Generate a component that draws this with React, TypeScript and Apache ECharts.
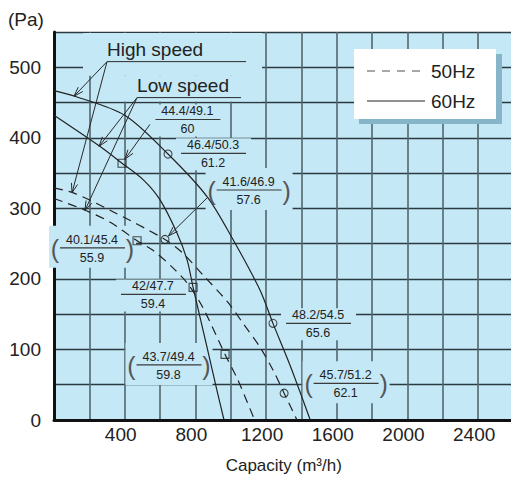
import React, { useEffect, useRef } from "react";
import * as echarts from "echarts";

// ---------- data ----------
const pressureLabels = [0, 100, 200, 300, 400, 500];
const capacityLabels = [400, 800, 1200, 1600, 2000, 2400];

const curve60High = [[0, 467], [118, 459], [400, 432], [645, 377], [868, 316], [1008, 258], [1166, 184], [1239, 137], [1335, 78], [1450, 0]];
const curve50High = [[0, 329], [110, 322], [320, 297], [628, 256], [727, 237], [845, 205], [980, 168], [1070, 137], [1166, 103], [1239, 71], [1302, 38], [1375, 0]];
const curve60Low = [[0, 432], [259, 388], [385, 364], [507, 340], [600, 312], [696, 265], [753, 227], [787, 188], [866, 103], [922, 42], [962, 0]];
const curve50Low = [[0, 314], [180, 297], [321, 280], [470, 254], [558, 241], [676, 215], [760, 192], [845, 158], [968, 93], [1040, 57], [1135, 0]];

const highPoints60 = [[645, 377], [1239, 137]];
const highPoints50 = [[628, 256], [1302, 38]];
const lowPoints60 = [[385, 364], [787, 188]];
const lowPoints50 = [[470, 254], [968, 93]];

const pointUpper = ["44.4/49.1", "46.4/50.3", "41.6/46.9", "40.1/45.4", "42/47.7", "43.7/49.4", "48.2/54.5", "45.7/51.2"];
const pointLower = ["60", "61.2", "57.6", "55.9", "59.4", "59.8", "65.6", "62.1"];
const pointIs50Hz = [false, false, true, true, false, true, false, true];
const pointLabelAt = [[755, 426], [900, 378], [1101, 326], [215, 244], [560, 178], [648, 78], [1494, 137], [1650, 52]];

const leaderFrom = [[543, 419], [871, 316]];
const leaderTo = [[385, 364], [628, 256]];

const calloutTexts = ["High speed", "Low speed"];
const calloutStart = [[300, 508], [470, 457]];
const calloutEnd = [[1087, 508], [1058, 457]];
const calloutTargets = [[[113, 459], [102, 322]], [[255, 388], [175, 297]]];

const legendNames = ["50Hz", "60Hz"];

// ---------- styles ----------
const BG = "#c4e8f6";
const INK = "#222222";
const FONT = "'Liberation Sans', Arial, sans-serif";

function arrowHead(tip: number[], from: number[], len = 10, ang = 0.32) {
  const dx = from[0] - tip[0];
  const dy = from[1] - tip[1];
  const d = Math.hypot(dx, dy) || 1;
  const ux = dx / d, uy = dy / d;
  const rot = (a: number) => [
    tip[0] + len * (ux * Math.cos(a) - uy * Math.sin(a)),
    tip[1] + len * (ux * Math.sin(a) + uy * Math.cos(a)),
  ];
  return [rot(ang), tip, rot(-ang)];
}

export default function App() {
  const ref = useRef<HTMLDivElement>(null);

  useEffect(() => {
    if (!ref.current) return;
    const chart = echarts.init(ref.current, undefined, { renderer: "svg" });

    const lineSeries = (data: number[][], dashed: boolean) => ({
      type: "line",
      data,
      smooth: 0.3,
      symbol: "none",
      showSymbol: false,
      silent: true,
      z: 3,
      lineStyle: { color: INK, width: 1.2, type: dashed ? [9, 6] : "solid" },
    });
    const markerSeries = (data: number[][], symbol: string) => ({
      type: "scatter",
      data,
      symbol,
      symbolSize: 8,
      silent: true,
      z: 4,
      itemStyle: { color: "rgba(0,0,0,0)", borderColor: INK, borderWidth: 1.1 },
    });

    chart.setOption({
      animation: false,
      grid: {
        left: 54, right: -2.5, top: 32, bottom: 57,
        show: true, backgroundColor: BG, borderWidth: 0,
        outerBoundsMode: "none", containLabel: false,
      },
      xAxis: {
        type: "value",
        min: 0,
        max: 2600,
        interval: 200,
        axisLine: { show: true, lineStyle: { color: "#111", width: 3 } },
        axisTick: { show: false },
        splitLine: { show: true, lineStyle: { color: "#52666e", width: 1.6 } },
        axisLabel: {
          formatter: (v: number) => (capacityLabels.includes(v) ? String(v) : ""),
          fontSize: 19,
          fontFamily: FONT,
          color: INK,
          margin: 5,
          padding: [0, 8, 0, 0],
        },
        name: "Capacity (m³/h)",
        nameLocation: "middle",
        nameGap: 37,
        nameTextStyle: { fontSize: 17, fontFamily: FONT, color: INK },
      },
      yAxis: {
        type: "value",
        min: 0,
        max: 550,
        interval: 50,
        axisLine: { show: true, lineStyle: { color: "#111", width: 3 } },
        axisTick: { show: false },
        splitLine: { show: true, lineStyle: { color: "#2b3a40", width: 1.4 } },
        axisLabel: {
          formatter: (v: number) => (pressureLabels.includes(v) ? String(v) : ""),
          fontSize: 19,
          fontFamily: FONT,
          color: INK,
          margin: 13,
        },
      },
      series: [
        lineSeries(curve60High, false),
        lineSeries(curve50High, true),
        lineSeries(curve60Low, false),
        lineSeries(curve50Low, true),
        markerSeries(highPoints60, "circle"),
        markerSeries(highPoints50, "circle"),
        markerSeries(lowPoints60, "rect"),
        markerSeries(lowPoints50, "rect"),
      ],
    });

    const px = (p: number[]) => chart.convertToPixel({ gridIndex: 0 }, p) as number[];
    const els: any[] = [];
    const text = (t: string, x: number, y: number, size: number, align = "center", extra: any = {}) => ({
      type: "text",
      x,
      y,
      silent: true,
      z: 10,
      style: { text: t, fill: INK, fontSize: size, fontFamily: FONT, align, verticalAlign: "middle", ...extra },
    });
    const seg = (a: number[], b: number[], w = 1, color = "#2a2a2a", z = 10) => ({
      type: "line",
      silent: true,
      z,
      shape: { x1: a[0], y1: a[1], x2: b[0], y2: b[1] },
      style: { stroke: color, lineWidth: w },
    });
    const arrow = (tip: number[], from: number[]) => ({
      type: "polyline",
      silent: true,
      z: 10,
      shape: { points: arrowHead(tip, from) },
      style: { stroke: "#2a2a2a", lineWidth: 1, fill: null },
    });
    const mask = (x1: number, y1: number, x2: number, y2: number) => ({
      type: "rect",
      silent: true,
      z: 1,
      shape: { x: x1, y: y1, width: x2 - x1, height: y2 - y1 },
      style: { fill: BG },
    });

    // callouts (High speed / Low speed)
    const c0s = px(calloutStart[0]), c0e = px(calloutEnd[0]);
    const c1s = px(calloutStart[1]), c1e = px(calloutEnd[1]);
    els.push(mask(c0s[0] - 24, 33, c0e[0] + 16, c0s[1] + 14));
    els.push(mask(c1s[0] - 42, c0s[1] + 14, c1e[0] + 21, c1s[1] + 4));
    calloutTexts.forEach((t, i) => {
      const s = px(calloutStart[i]);
      const e = px(calloutEnd[i]);
      els.push(text(t, s[0], s[1] - 12.5, 19, "left"));
      els.push(seg(s, e, 1));
      calloutTargets[i].forEach((tg) => {
        const tp = px(tg);
        els.push(seg(s, tp, 1));
        els.push(arrow(tp, s));
      });
    });

    // leaders from labels to markers
    leaderFrom.forEach((f, i) => {
      const a = px(f);
      const b = px(leaderTo[i]);
      const d = Math.hypot(a[0] - b[0], a[1] - b[1]);
      const tip = [b[0] + ((a[0] - b[0]) / d) * 5, b[1] + ((a[1] - b[1]) / d) * 5];
      els.push(seg(a, tip, 1));
      els.push(arrow(tip, a));
    });

    // point labels (fractions)
    pointUpper.forEach((u, i) => {
      const c = px(pointLabelAt[i]);
      const paren = pointIs50Hz[i];
      if (paren) els.push(mask(c[0] - 43, c[1] - 22, c[0] + 44, c[1] + 20));
      else els.push(mask(c[0] - 37, c[1] - 15, c[0] + 38, c[1] + 17));
      els.push(text(u, c[0], c[1] - 8, 12.5));
      els.push(seg([c[0] - 32, c[1]], [c[0] + 33, c[1]], 1.2, "#3a3a3a"));
      els.push(text(pointLower[i], c[0], c[1] + 10, 12.5));
      if (paren) {
        els.push(text("(", c[0] - 37, c[1] + 1, 25, "center", { fill: "#555" }));
        els.push(text(")", c[0] + 38, c[1] + 1, 25, "center", { fill: "#555" }));
      }
    });

    // legend box
    els.push({ type: "rect", silent: true, z: 19, shape: { x: 359, y: 54, width: 143, height: 70 }, style: { fill: "#86b5c8" } });
    els.push({ type: "rect", silent: true, z: 20, shape: { x: 354, y: 49, width: 142, height: 70 }, style: { fill: "#ffffff" } });
    els.push({
      type: "line", silent: true, z: 21,
      shape: { x1: 367, y1: 71, x2: 425, y2: 71 },
      style: { stroke: "#8a8a8a", lineWidth: 1.6, lineDash: [8, 7] },
    });
    els.push({
      type: "line", silent: true, z: 21,
      shape: { x1: 367, y1: 101, x2: 425, y2: 101 },
      style: { stroke: INK, lineWidth: 1.2 },
    });
    els.push({ ...text(legendNames[0], 431, 71, 19, "left"), z: 21 });
    els.push({ ...text(legendNames[1], 431, 101, 19, "left"), z: 21 });

    // unit label
    els.push(text("(Pa)", 8, 19, 19, "left"));

    chart.setOption({ graphic: els });

    return () => chart.dispose();
  }, []);

  return (
    <div
      ref={ref}
      style={{ position: "fixed", left: 0, top: 0, width: 511, height: 477, background: "#ffffff" }}
    />
  );
}
